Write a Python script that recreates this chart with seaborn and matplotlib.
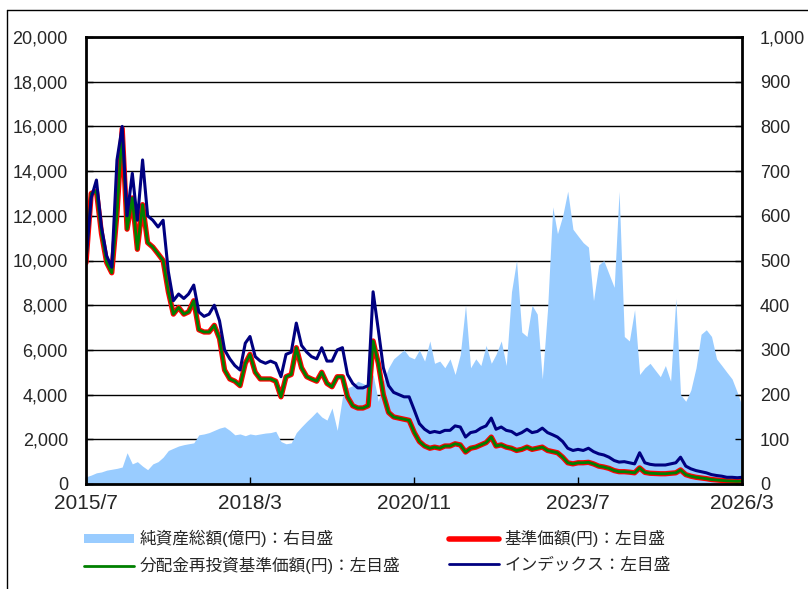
import pandas as pd
import seaborn as sns
import matplotlib.pyplot as plt
from matplotlib.lines import Line2D
from matplotlib.patches import Patch

sns.set_theme(style="white")
plt.rcParams['font.family'] = ['Liberation Sans', 'Noto Sans CJK JP', 'DejaVu Sans']

# monthly values, 2015/7 .. 2026/3
start = "2015-07-01"

# インデックス (円, left axis)
index_values = [10000, 12800, 13600, 11500, 10200, 9700, 14500, 16000, 12000, 13900,
                11800, 14500, 12000, 11800, 11500, 11800, 9500, 8200, 8500, 8300,
                8500, 8900, 7700, 7500, 7600, 8000, 7300, 6000, 5600, 5300,
                5100, 6300, 6600, 5700, 5500, 5400, 5500, 5400, 4800, 5800,
                5900, 7200, 6200, 5900, 5700, 5600, 6100, 5500, 5500, 6000,
                6100, 4900, 4500, 4300, 4300, 4400, 8600, 6900, 5200, 4400,
                4100, 4000, 3900, 3900, 3300, 2700, 2450, 2300, 2350, 2300,
                2400, 2400, 2600, 2550, 2100, 2300, 2350, 2500, 2600, 2950,
                2450, 2550, 2400, 2350, 2200, 2300, 2450, 2300, 2350, 2500,
                2300, 2200, 2100, 1900, 1600, 1500, 1550, 1500, 1600, 1450,
                1350, 1300, 1200, 1050, 980, 1000, 950, 900, 1400, 950,
                880, 850, 850, 850, 900, 950, 1200, 800, 680, 600,
                550, 500, 420, 380, 350, 300, 300, 280, 300]

# 基準価額 (円, left axis)
base_price = [9900, 13000, 13100, 11200, 9900, 9450, 12100, 15900, 11400, 12800,
              10500, 12500, 10800, 10600, 10300, 10000, 8600, 7600, 7900, 7600,
              7700, 8200, 6900, 6800, 6800, 7100, 6500, 5100, 4700, 4600,
              4400, 5400, 5800, 5000, 4700, 4700, 4700, 4600, 3900, 4800,
              4900, 6100, 5200, 4800, 4700, 4600, 5000, 4500, 4350, 4800,
              4800, 3900, 3500, 3400, 3400, 3500, 6400, 5400, 4000, 3200,
              3000, 2950, 2900, 2850, 2300, 1900, 1700, 1600, 1650, 1600,
              1700, 1700, 1800, 1750, 1430, 1600, 1650, 1750, 1850, 2100,
              1700, 1750, 1650, 1600, 1500, 1550, 1650, 1550, 1600, 1650,
              1500, 1450, 1400, 1200, 950, 900, 950, 950, 970, 900,
              800, 760, 700, 600, 550, 550, 530, 500, 720, 520,
              480, 470, 460, 460, 480, 500, 630, 420, 350, 300,
              270, 240, 200, 180, 160, 140, 130, 120, 130]

# 分配金再投資基準価額 (円, left axis) - overlaps the base price
reinvested = list(base_price)

# 純資産総額 (億円, right axis)
net_assets = [16, 20, 25, 27, 31, 33, 35, 38, 70, 45,
              50, 40, 32, 45, 50, 60, 75, 80, 85, 88,
              90, 92, 110, 112, 115, 120, 125, 128, 120, 110,
              112, 108, 112, 110, 112, 114, 115, 118, 95, 90,
              92, 115, 128, 140, 150, 162, 150, 143, 170, 120,
              195, 215, 220, 230, 225, 220, 245, 185, 230, 260,
              280, 290, 300, 285, 280, 300, 275, 320, 270, 275,
              260, 280, 245, 290, 400, 260, 280, 265, 310, 270,
              290, 320, 265, 430, 500, 340, 330, 400, 380, 235,
              390, 620, 560, 600, 655, 570, 555, 540, 530, 410,
              490, 500, 470, 440, 655, 330, 320, 390, 245, 260,
              270, 255, 240, 265, 230, 415, 200, 185, 210, 260,
              335, 345, 330, 280, 265, 250, 235, 205, 175]

x_ticks = ["2015-07-01", "2018-03-01", "2020-11-01", "2023-07-01", "2026-03-01"]
x_labels = ["2015/7", "2018/3", "2020/11", "2023/7", "2026/3"]
legend_labels = ["純資産総額(億円)：右目盛", "分配金再投資基準価額(円)：左目盛",
                 "基準価額(円)：左目盛", "インデックス：左目盛"]

dates = pd.date_range(start, periods=len(base_price), freq="MS")
df = pd.DataFrame({"date": dates, "index": index_values, "base": base_price,
                   "reinv": reinvested, "assets": net_assets})

fig = plt.figure(figsize=(8.08, 5.89), dpi=100)
ax = fig.add_axes([86 / 808, 1 - 484 / 589, 656 / 808, 447 / 589])
ax2 = ax.twinx()
ax.set_zorder(2)
ax2.set_zorder(1)
ax.patch.set_visible(False)

# right axis: net assets area + grid
ax2.fill_between(df["date"], df["assets"], color="#99CCFF", lw=0)
ax2.set_ylim(0, 1000)
ax2.set_yticks(range(0, 1001, 100))
ax2.set_yticklabels([f"{v:,}" for v in range(0, 1001, 100)])
ax2.set_axisbelow(True)
ax2.yaxis.grid(True, color="black", lw=1)
ax2.tick_params(axis="y", length=0, labelsize=13, pad=13)
for s in ax2.spines.values():
    s.set_visible(False)

# left axis: price lines
sns.lineplot(data=df, x="date", y="base", ax=ax, color="#FF0000", lw=3.8, legend=False)
sns.lineplot(data=df, x="date", y="reinv", ax=ax, color="#008000", lw=2.0, legend=False)
sns.lineplot(data=df, x="date", y="index", ax=ax, color="#000080", lw=2.2, legend=False)
ax.set_ylim(0, 20000)
ax.set_yticks(range(0, 20001, 2000))
ax.set_yticklabels([f"{v:,}" for v in range(0, 20001, 2000)])
ax.set_xlim(dates[0], dates[-1])
ax.set_xticks(pd.to_datetime(x_ticks))
ax.set_xticklabels(x_labels)
ax.set_xlabel("")
ax.set_ylabel("")
ax.tick_params(axis="y", left=True, right=True, labelright=False, direction="in",
               length=5, width=1, labelsize=13, pad=13, color="black")
ax.tick_params(axis="x", bottom=True, direction="in", length=5, width=1,
               labelsize=15, pad=7, color="black")
for s in ax.spines.values():
    s.set_visible(True)
    s.set_color("black")
    s.set_linewidth(2)

handles = [Patch(color="#99CCFF", lw=0),
           Line2D([], [], color="#008000", lw=2),
           Line2D([], [], color="#FF0000", lw=4, solid_capstyle="round"),
           Line2D([], [], color="#000080", lw=2)]
fig.legend(handles, legend_labels, ncol=2, loc="upper left",
           bbox_to_anchor=(84 / 808, 1 - 530 / 589), frameon=False, fontsize=12,
           handlelength=3.0, handleheight=0.5, handletextpad=0.35,
           labelspacing=0.6, columnspacing=2.9, borderpad=0, borderaxespad=0)

# outer frame
fig.add_artist(Line2D([7 / 808, 1], [1 - 10 / 589, 1 - 10 / 589], color="black", lw=1))
fig.add_artist(Line2D([7 / 808, 7 / 808], [0, 1 - 10 / 589], color="black", lw=1))

fig.savefig("out.png", dpi=100)
